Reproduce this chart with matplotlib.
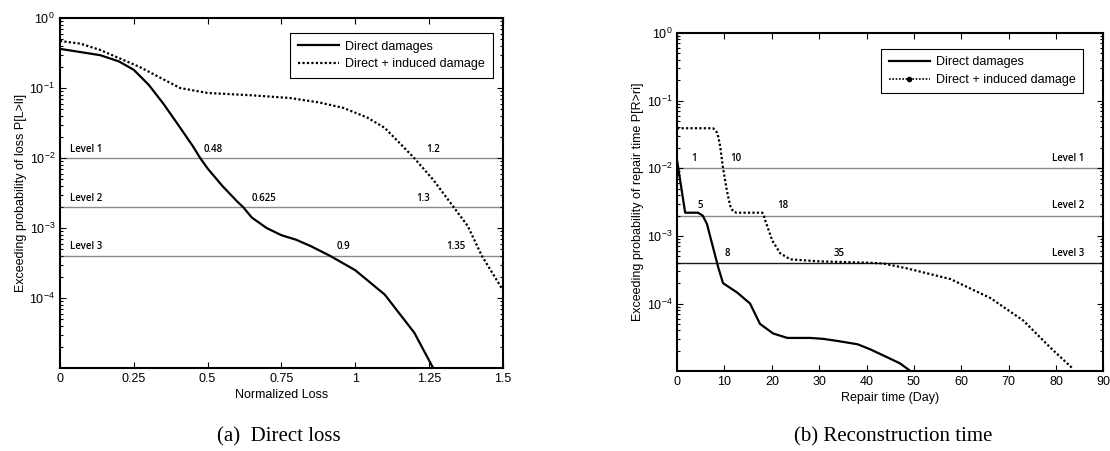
import matplotlib
matplotlib.use("Agg")
import matplotlib.pyplot as plt
from matplotlib.lines import Line2D
from matplotlib.ticker import LogLocator, NullFormatter

# ---------------- data: (a) Direct loss ----------------
loss_direct_x = [0, 0.136, 0.2, 0.25, 0.3, 0.35, 0.4, 0.45, 0.475, 0.5, 0.55, 0.6, 0.62,
                 0.65, 0.7, 0.75, 0.8, 0.85, 0.915, 1.0, 1.1, 1.2, 1.264]
loss_direct_y = [0.363, 0.295, 0.24, 0.182, 0.112, 0.060, 0.030, 0.0148, 0.010, 0.0071,
                 0.0040, 0.0024, 0.0020, 0.00141, 0.0010, 0.00079, 0.00068, 0.00055, 0.00040,
                 0.00025, 0.000112, 3.2e-5, 1.0e-5]
loss_induced_x = [0, 0.07, 0.136, 0.27, 0.407, 0.5, 0.644, 0.78, 0.88, 0.96, 1.04, 1.1,
                  1.197, 1.265, 1.333, 1.381, 1.429, 1.5]
loss_induced_y = [0.47, 0.43, 0.35, 0.20, 0.10, 0.085, 0.079, 0.072, 0.062, 0.052, 0.038, 0.027,
                  0.0103, 0.00485, 0.0020, 0.00107, 0.0004, 0.00013]

levels = [1e-2, 2e-3, 4e-4]
level_names = ["Level 1", "Level 2", "Level 3"]

loss_direct_marks = ["0.48", "0.625", "0.9"]
loss_direct_mark_x = [0.52, 0.69, 0.96]
loss_induced_marks = ["1.2", "1.3", "1.35"]
loss_induced_mark_x = [1.265, 1.23, 1.34]

# ---------------- data: (b) Reconstruction time ----------------
time_direct_x = [0, 1.7, 4.4, 5.4, 6.3, 7.6, 8.7, 9.7, 12.7, 15.4, 17.5, 20.3, 23.3, 28.1, 30.9,
                 33.8, 38.1, 40.8, 43.6, 47.1, 49.3]
time_direct_y = [1.3e-2, 2.2e-3, 2.2e-3, 2.0e-3, 1.5e-3, 6.7e-4, 3.4e-4, 2.0e-4, 1.45e-4, 1.0e-4,
                 5.0e-5, 3.6e-5, 3.1e-5, 3.1e-5, 3.0e-5, 2.8e-5, 2.5e-5, 2.1e-5, 1.7e-5,
                 1.3e-5, 1.0e-5]
time_induced_x = [0, 7.6, 8.4, 8.7, 9.1, 9.7, 10.5, 11.2, 11.8, 12.5, 18, 18.3, 18.6, 20.1, 21.8,
                  23.9, 30, 40.8, 43.6, 48.6, 57.7, 66.2, 73.1, 78.9, 83.5]
time_induced_y = [0.039, 0.039, 0.034, 0.029, 0.021, 1.0e-2, 4.7e-3, 2.8e-3, 2.3e-3, 2.2e-3,
                  2.2e-3, 2.0e-3, 1.7e-3, 8.5e-4, 5.5e-4, 4.5e-4, 4.2e-4, 4.0e-4, 3.9e-4,
                  3.3e-4, 2.3e-4, 1.2e-4, 5.6e-5, 2.2e-5, 1.1e-5]

time_direct_marks = ["1", "5", "8"]
time_direct_mark_x = [3.6, 4.9, 10.6]
time_induced_marks = ["10", "18", "35"]
time_induced_mark_x = [12.3, 22.4, 34.2]

loss_ticks = [0, 0.25, 0.5, 0.75, 1, 1.25, 1.5]
loss_ticklabels = ["0", "0.25", "0.5", "0.75", "1", "1.25", "1.5"]
time_ticks = [0, 10, 20, 30, 40, 50, 60, 70, 80, 90]

# ---------------- styling ----------------
plt.rcParams['font.family'] = ['Liberation Sans', 'DejaVu Sans']
plt.rcParams['mathtext.default'] = 'regular'
SANS = 9
LBL_FONT = dict(family=['Open Sans', 'DejaVu Sans'], fontsize=7, fontweight='semibold')
DOT = (0, (1, 1))

fig = plt.figure(figsize=(11.10, 4.51), dpi=100)
axL = fig.add_axes([0.054, 0.184, 0.399, 0.776])
axR = fig.add_axes([0.610, 0.177, 0.384, 0.750])


def style_axis(ax):
    ax.set_yscale('log')
    ax.set_ylim(1e-5, 1)
    ax.set_yticks([1e-4, 1e-3, 1e-2, 1e-1, 1])
    ax.yaxis.set_minor_locator(LogLocator(base=10, subs=range(2, 10), numticks=20))
    ax.yaxis.set_minor_formatter(NullFormatter())
    ax.tick_params(which='both', direction='in', top=True, right=True, labelsize=SANS,
                   width=0.8, colors='black')
    ax.tick_params(which='major', length=4)
    ax.tick_params(which='minor', length=2)
    for s in ax.spines.values():
        s.set_linewidth(1.5)


def add_legend(ax, handles, anchor):
    leg = ax.legend(handles, ["Direct damages", "Direct + induced damage"], loc='upper right',
                    bbox_to_anchor=anchor, fontsize=SANS, fancybox=False,
                    edgecolor='black', framealpha=1, borderaxespad=0, handlelength=3.3,
                    borderpad=0.6, labelspacing=0.45, handletextpad=0.5)
    leg.get_frame().set_linewidth(0.8)
    return leg


# ---- left panel ----
style_axis(axL)
axL.set_xlim(0, 1.5)
axL.set_xticks(loss_ticks)
axL.set_xticklabels(loss_ticklabels)
for lv, nm in zip(levels, level_names):
    axL.axhline(lv, color='#8a8a8a', lw=1.0, zorder=1)
    axL.text(0.035, lv * 1.12, nm, ha='left', va='bottom', **LBL_FONT)
for lv, t, x in zip(levels, loss_direct_marks, loss_direct_mark_x):
    axL.text(x, lv * 1.12, t, ha='center', va='bottom', **LBL_FONT)
for lv, t, x in zip(levels, loss_induced_marks, loss_induced_mark_x):
    axL.text(x, lv * 1.12, t, ha='center', va='bottom', **LBL_FONT)
axL.plot(loss_direct_x, loss_direct_y, color='black', lw=1.6, zorder=3)
axL.plot(loss_induced_x, loss_induced_y, color='black', lw=1.6, ls=DOT, zorder=3)
axL.set_xlabel("Normalized Loss", fontsize=SANS, labelpad=3)
axL.set_ylabel("Exceeding probability of loss P[L>li]", fontsize=SANS, labelpad=2)
add_legend(axL, [Line2D([], [], color='black', lw=1.6),
                 Line2D([], [], color='black', lw=1.6, ls=DOT)], (0.977, 0.957))

# ---- right panel ----
style_axis(axR)
axR.set_xlim(0, 90)
axR.set_xticks(time_ticks)
lv_colors = ['#8a8a8a', '#8a8a8a', '#1a1a1a']
for lv, nm, c in zip(levels, level_names, lv_colors):
    axR.axhline(lv, color=c, lw=1.0, zorder=1)
    axR.text(86, lv * 1.15, nm, ha='right', va='bottom', **LBL_FONT)
for lv, t, x in zip(levels, time_direct_marks, time_direct_mark_x):
    axR.text(x, lv * 1.15, t, ha='center', va='bottom', **LBL_FONT)
for lv, t, x in zip(levels, time_induced_marks, time_induced_mark_x):
    axR.text(x, lv * 1.15, t, ha='center', va='bottom', **LBL_FONT)
axR.plot(time_direct_x, time_direct_y, color='black', lw=1.6, zorder=3)
axR.plot(time_induced_x, time_induced_y, color='black', lw=1.6, ls=DOT, zorder=3)
axR.set_xlabel("Repair time (Day)", fontsize=SANS, labelpad=3)
axR.set_ylabel("Exceeding probability of repair time P[R>ri]", fontsize=SANS, labelpad=2)
add_legend(axR, [Line2D([], [], color='black', lw=1.6),
                 Line2D([], [], color='black', lw=1.2, ls=DOT, marker='o', markersize=3)],
           (0.953, 0.953))

# ---- captions ----
fig.text(0.251, 0.031, "(a)  Direct loss", ha='center', va='center',
         family=['Liberation Serif', 'DejaVu Serif'], fontsize=15)
fig.text(0.805, 0.031, "(b) Reconstruction time", ha='center', va='center',
         family=['Liberation Serif', 'DejaVu Serif'], fontsize=15)

fig.savefig("out.png", dpi=100)
